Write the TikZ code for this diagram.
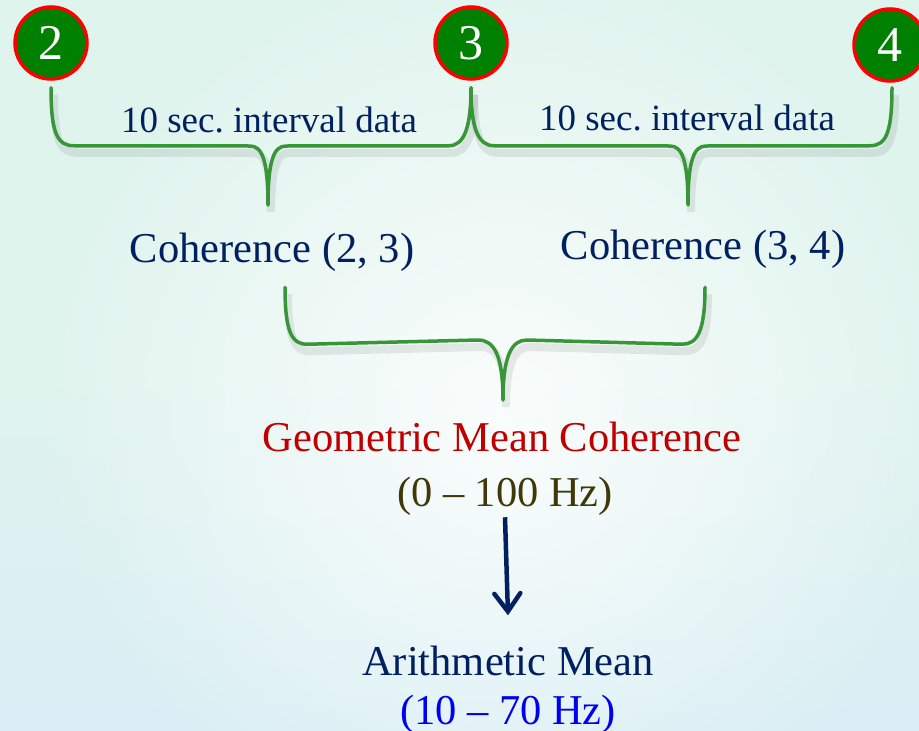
\documentclass[tikz,border=0pt]{standalone}
\usepackage{fontspec}
\setmainfont{Liberation Serif}
\usetikzlibrary{arrows.meta,fadings,calc}
\definecolor{navy}{RGB}{0,32,96}
\definecolor{cgreen}{RGB}{0,128,0}
\definecolor{cred}{RGB}{255,0,0}
\definecolor{bgreen}{RGB}{56,150,56}
\definecolor{dred}{RGB}{192,0,0}
\definecolor{olive}{RGB}{64,56,8}
\definecolor{hzblue}{RGB}{0,0,240}
\definecolor{mint}{RGB}{224,244,238}
\definecolor{skyb}{RGB}{216,238,244}
\tikzfading[name=radfade, inner color=transparent!15, outer color=transparent!100]
\frenchspacing
\begin{document}
\begin{tikzpicture}[x=1pt,y=-1pt,
  num/.style={circle, fill=cgreen, draw=cred, line width=3.5pt, minimum size=72pt, inner sep=0pt, text=white, font=\fontsize{50}{50}\selectfont},
  brc/.style={draw=bgreen, line width=3.5pt, line cap=round, line join=round,
    preaction={draw=black, opacity=0.08, line width=8pt, transform canvas={shift={(3pt,-7pt)}}}},
  lbl/.style={anchor=base, text=navy, font=\fontsize{42.5}{50}\selectfont, inner sep=0pt},
  small/.style={anchor=base, text=navy, font=\fontsize{37}{44}\selectfont, inner sep=0pt},
  arr/.style={draw=navy, line width=4.5pt, -{Straight Barb[length=18pt,width=26pt,line cap=round]}}]
\useasboundingbox (0,0) rectangle (919,731);
\clip (0,0) rectangle (919,731);
% background
\shade[top color=mint, bottom color=skyb, middle color=mint] (0,0) rectangle (919,731);
\fill[white, path fading=radfade] (500,420) circle (460);
% numbered circles
\node[num] (c2) at (51,43) {2};
\node[num] (c3) at (471,43) {3};
\node[num] (c4) at (890,45) {4};
% coordinates for braces
\coordinate (b1l) at ($(c2.south)+(0,7)$);
\coordinate (b1r) at ($(c3.south)+(0,7)$);
\coordinate (b2r) at ($(c4.south)+(2,5)$);
% top braces
\draw[brc] (b1l) .. controls ($(b1l)+(0,45)$) and ($(b1l)+(6,58)$) .. ($(b1l)+(23,58)$)
  -- (250,146) .. controls (262,146) and (268,160) .. (268,205)
  .. controls (268,160) and (274,146) .. (286,146)
  -- ($(b1r)+(-22,58)$) .. controls ($(b1r)+(-7,58)$) and ($(b1r)+(0,40)$) .. (b1r);
\draw[brc] (b1r) .. controls ($(b1r)+(0,40)$) and ($(b1r)+(7,58)$) .. ($(b1r)+(23,58)$)
  -- (670,146) .. controls (682,146) and (688,160) .. (688,205)
  .. controls (688,160) and (694,146) .. (706,146)
  -- ($(b2r)+(-22,58)$) .. controls ($(b2r)+(-6,58)$) and ($(b2r)+(0,45)$) .. (b2r);
% labels
\node[small] (t1) at (269,132) {10 sec.\ interval data};
\node[small] (t2) at (687,130) {10 sec.\ interval data};
\node[lbl] (co23) at (272,262) {Coherence (2, 3)};
\node[lbl] (co34) at (703,259) {Coherence (3, 4)};
% lower brace
\coordinate (b3l) at ($(co23.south)+(13,16)$);
\coordinate (b3r) at ($(co34.south)+(2,19)$);
\draw[brc] (b3l) .. controls ($(b3l)+(0,45)$) and ($(b3l)+(7,57)$) .. ($(b3l)+(22,57)$)
  -- (478,340) .. controls (494,340) and (503,355) .. (503,400)
  .. controls (503,355) and (512,340) .. (527,340)
  -- ($(b3r)+(-23,57)$) .. controls ($(b3r)+(-8,57)$) and ($(b3r)+(0,45)$) .. (b3r);
% results
\node[lbl, text=dred] (geo) at (502,451) {Geometric Mean Coherence};
\node[lbl, text=olive] (hz1) at (505,506) {(0 -- 100 Hz)};
\node[lbl] (ari) at (508,675) {Arithmetic Mean};
\node[lbl, text=hzblue] (hz2) at (508,724) {(10 -- 70 Hz)};
\draw[arr] ($(hz1.south)+(0,2)$) -- ($(ari.north)+(0,-30)$);
\end{tikzpicture}
\end{document}
